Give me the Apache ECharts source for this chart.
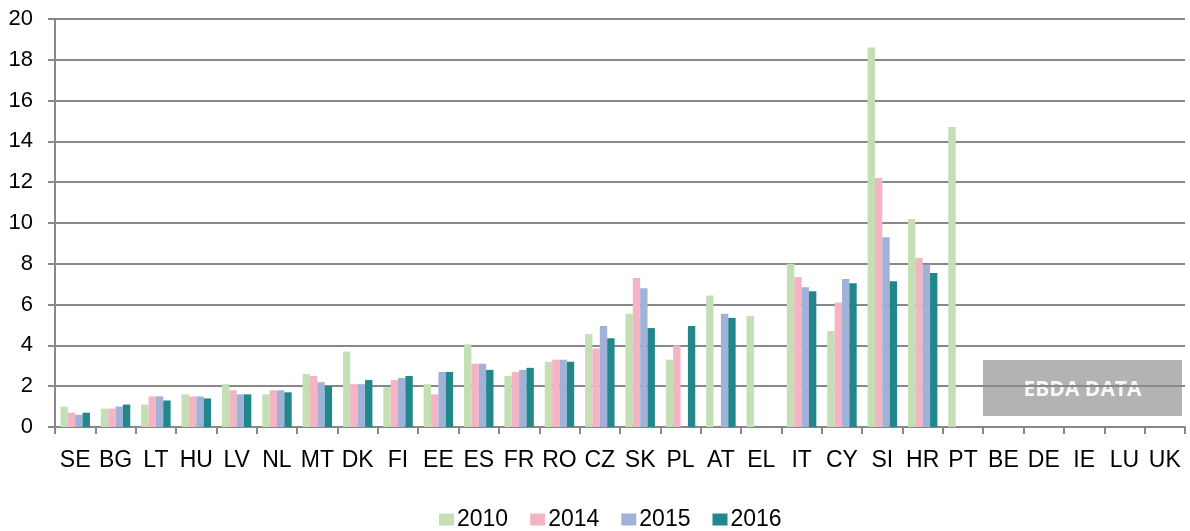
<!DOCTYPE html>
<html>
<head>
<meta charset="utf-8">
<script src="https://cdn.jsdelivr.net/npm/echarts@6/dist/echarts.min.js"></script>
<style>
  html, body { margin: 0; padding: 0; background: #fff; }
  #chart { width: 1190px; height: 531px; }
</style>
</head>
<body>
<div id="chart"></div>
<script>
// countries on the x axis
const countries = ['SE','BG','LT','HU','LV','NL','MT','DK','FI','EE','ES','FR','RO','CZ','SK','PL','AT','EL','IT','CY','SI','HR','PT','BE','DE','IE','LU','UK'];

// values (null = no bar)
const v2010 = [1.0,0.9,1.1,1.6,2.1,1.6,2.6,3.7,1.95,2.1,4.05,2.5,3.2,4.55,5.55,3.3,6.45,5.45,8.0,4.7,18.6,10.2,14.7,null,null,null,null,null];
const v2014 = [0.7,0.9,1.5,1.5,1.8,1.8,2.5,2.1,2.3,1.6,3.1,2.7,3.3,3.85,7.3,4.0,null,null,7.35,6.1,12.2,8.3,null,null,null,null,null,null];
const v2015 = [0.6,1.0,1.5,1.5,1.6,1.8,2.2,2.1,2.4,2.7,3.1,2.8,3.3,4.95,6.8,null,5.55,null,6.85,7.25,9.3,7.95,null,null,null,null,null,null];
const v2016 = [0.7,1.1,1.3,1.4,1.6,1.7,2.0,2.3,2.5,2.7,2.8,2.9,3.2,4.35,4.85,4.95,5.35,null,6.65,7.05,7.15,7.55,null,null,null,null,null,null];

const years = ['2010','2014','2015','2016'];
const colors = ['#c3dfb3','#f5b4c4','#a0b2d8','#21878a'];
const values = [v2010, v2014, v2015, v2016];

const chart = echarts.init(document.getElementById('chart'));

const gray = '#888888';
const font = 'Liberation Sans, Arial, sans-serif';

chart.setOption({
  animation: false,
  color: colors,
  grid: { left: 55, right: 5, top: 19, bottom: 104, containLabel: false },
  legend: {
    top: 503,
    left: 434,
    itemWidth: 15,
    itemHeight: 12,
    itemGap: 22,
    icon: 'rect',
    textStyle: { fontFamily: font, fontSize: 23, color: '#000', padding: [0,0,0,-2] },
    data: years
  },
  xAxis: {
    type: 'category',
    data: countries,
    axisLine: { lineStyle: { color: gray, width: 2 } },
    axisTick: { show: true, length: 7, lineStyle: { color: gray, width: 2 } },
    axisLabel: { interval: 0, margin: 22, fontFamily: font, fontSize: 23, color: '#000' }
  },
  yAxis: {
    type: 'value',
    min: 0,
    max: 20,
    interval: 2,
    axisLine: { show: true, lineStyle: { color: gray, width: 2 } },
    axisTick: { show: true, length: 7, lineStyle: { color: gray, width: 2 } },
    axisLabel: { margin: 22, fontFamily: font, fontSize: 22, color: '#000' },
    splitLine: { lineStyle: { color: gray, width: 2 } }
  },
  series: years.map((y, i) => ({
    name: y,
    type: 'bar',
    data: values[i],
    barGap: '0%',
    barCategoryGap: '27%'
  })),
  graphic: [{
    type: 'group',
    left: 983,
    top: 360,
    children: [
      { type: 'rect', shape: { x: 0, y: 0, width: 199, height: 56 }, style: { fill: '#b3b3b3' } },
      { type: 'text', x: 99.5, y: 30, style: {
          text: 'EBDA DATA', fill: '#f7f7f7', font: 'bold 21px "Open Sans", sans-serif',
          align: 'center', verticalAlign: 'middle' } }
    ]
  }]
});
</script>
</body>
</html>
